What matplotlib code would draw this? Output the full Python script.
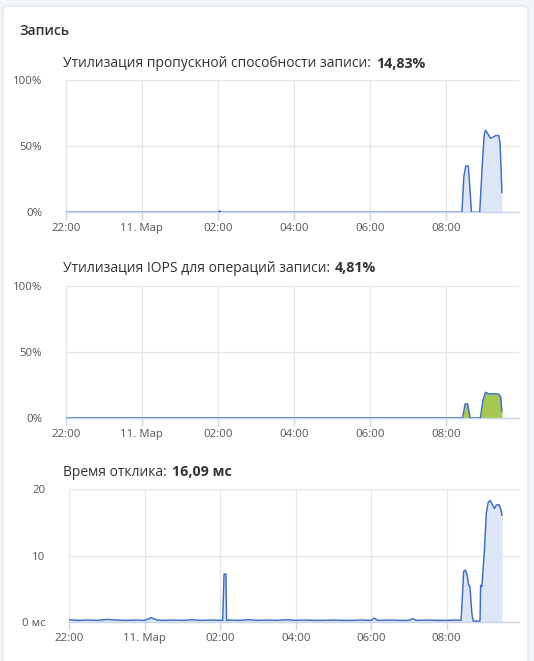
import matplotlib
matplotlib.use("Agg")
import matplotlib.pyplot as plt
from matplotlib.patches import FancyBboxPatch

plt.rcParams['font.family'] = ['Open Sans', 'DejaVu Sans']

# ---------------- data ----------------
tick_times = ["22:00", "00:00", "02:00", "04:00", "06:00", "08:00"]
tick_labels = ["22:00", "11. Мар", "02:00", "04:00", "06:00", "08:00"]

bw_times = ["22:00", "02:00", "02:03", "02:06", "08:25", "08:28", "08:31", "08:35",
            "08:37", "08:40", "08:53", "08:57", "09:00", "09:02", "09:05", "09:10",
            "09:15", "09:18", "09:23", "09:25", "09:27", "09:28"]
bw_vals = [0, 0, 1, 0, 0, 27, 35, 35, 22, 0, 0, 35, 58, 62, 60, 56, 57, 58, 58, 53, 30, 15]

iops_times = ["22:00", "08:26", "08:30", "08:34", "08:38", "08:54", "08:58", "09:02",
              "09:07", "09:18", "09:23", "09:26", "09:28"]
iops_vals = [0, 0, 10.6, 10.6, 0, 0, 13, 19.5, 18.3, 18.3, 18, 16, 5]

lat_times = ["22:00", "22:15", "22:30", "22:45", "23:00", "23:15", "23:30", "23:45",
             "00:00", "00:10", "00:20", "00:30", "00:45", "01:00", "01:15", "01:30",
             "01:45", "02:00", "02:04", "02:06", "02:09", "02:10", "02:15", "02:30",
             "02:45", "03:00", "03:15", "03:30", "03:45", "04:00", "04:15", "04:30",
             "04:45", "05:00", "05:15", "05:30", "05:45", "06:00", "06:05", "06:10",
             "06:30", "06:45", "07:00", "07:06", "07:12", "07:30", "07:45", "08:00",
             "08:15", "08:23", "08:25", "08:27", "08:30", "08:33", "08:35", "08:37",
             "08:40", "08:42", "08:53", "08:54", "08:56", "09:00", "09:03", "09:06",
             "09:09", "09:12", "09:16", "09:19", "09:23", "09:26", "09:28"]
lat_vals = [0.3, 0.2, 0.25, 0.2, 0.35, 0.25, 0.2, 0.25,
            0.2, 0.6, 0.25, 0.2, 0.25, 0.2, 0.3, 0.2,
            0.25, 0.2, 0.2, 7.2, 7.2, 0.2, 0.25, 0.2,
            0.3, 0.2, 0.25, 0.2, 0.3, 0.2, 0.25, 0.2,
            0.2, 0.25, 0.2, 0.2, 0.25, 0.2, 0.55, 0.2,
            0.25, 0.2, 0.2, 0.45, 0.2, 0.25, 0.2, 0.2,
            0.25, 0.2, 3.8, 7.6, 7.8, 6.8, 5.5, 5.3,
            1.3, 0.1, 0.1, 5.5, 5.3, 10.8, 16.4, 18.0,
            18.3, 17.8, 17.1, 17.6, 17.7, 17.0, 16.1]

section_title = "Запись"
titles = ["Утилизация пропускной способности записи:",
          "Утилизация IOPS для операций записи:",
          "Время отклика:"]
title_values = ["14,83%", "4,81%", "16,09 мс"]
pct_ticks = [0, 50, 100]
pct_labels = ["0%", "50%", "100%"]
lat_ticks = [0, 10, 20]
lat_labels = ["0 мс", "10", "20"]


def hrs(s):
    h, m = map(int, s.split(":"))
    if h >= 22:
        h -= 24
    return h + 2 + m / 60.0


# ---------------- style ----------------
W, H = 534, 661
BG = "#f2f5fa"
LINE = "#3a6cc8"
FILL = "#dce6f5"
GREEN = "#a6c852"
GRID = "#e6e6e6"
AXIS = "#ccd6eb"
TXT = "#333333"
TICK = "#555555"

fig = plt.figure(figsize=(W / 100, H / 100), dpi=100, facecolor=BG)
card = FancyBboxPatch((3 / W, -20 / H), 525 / W, (H - 6 + 20) / H,
                      boxstyle="round,pad=0,rounding_size=0.008",
                      transform=fig.transFigure, facecolor="white",
                      edgecolor="#e1e8f2", linewidth=1.0, zorder=-10)
fig.patches.append(card)

fig.text(19 / W, 1 - 31 / H, section_title, fontsize=10, weight="semibold",
         color=TXT, va="center", ha="left")

XMAX = hrs("09:55")

panels = [
    # left px, top px, bottom px
    (65.7, 80, 212.3),
    (65.7, 286, 418),
    (69.3, 489.3, 621.7),
]
series = [
    (bw_times, bw_vals, FILL, pct_ticks, pct_labels, 100),
    (iops_times, iops_vals, GREEN, pct_ticks, pct_labels, 100),
    (lat_times, lat_vals, FILL, lat_ticks, lat_labels, 20),
]
title_y = [63.5, 268.5, 472.5]

for i, ((lpx, tpx, bpx), (tt, vv, fc, yt, yl, ymax)) in enumerate(zip(panels, series)):
    ax = fig.add_axes([lpx / W, 1 - bpx / H, (519 - lpx) / W, (bpx - tpx) / H])
    ax.set_facecolor("none")
    x = [hrs(t) for t in tt]
    ax.fill_between(x, vv, 0, color=fc, linewidth=0, zorder=2)
    ax.plot(x, vv, color=LINE, linewidth=1.05, zorder=3)
    ax.set_xlim(0, XMAX)
    ax.set_ylim(0, ymax)
    ax.set_xticks([hrs(t) for t in tick_times])
    ax.set_xticklabels(tick_labels)
    ax.set_yticks(yt)
    ax.set_yticklabels(yl)
    ax.grid(True, color=GRID, linewidth=0.9, zorder=0)
    ax.set_axisbelow(True)
    for s in ["top", "right", "left"]:
        ax.spines[s].set_visible(False)
    ax.spines["bottom"].set_color(AXIS)
    ax.spines["bottom"].set_linewidth(1.0)
    ax.tick_params(axis="x", length=6, width=1, color=AXIS, pad=2,
                   labelsize=8.2, labelcolor=TICK)
    ax.tick_params(axis="y", length=0, pad=17, labelsize=8.2, labelcolor=TICK)

    t1 = fig.text(63 / W, 1 - title_y[i] / H, titles[i], fontsize=10,
                  color=TXT, va="center", ha="left")
    ann = ax.annotate(title_values[i], xy=(1, 0.5), xycoords=t1,
                      xytext=(3.5, 0), textcoords="offset points", va="center",
                      ha="left", fontsize=10.3, weight="bold", color=TXT,
                      annotation_clip=False)
    ann.set_clip_on(False)

fig.savefig("out.png", dpi=100, facecolor=BG)
